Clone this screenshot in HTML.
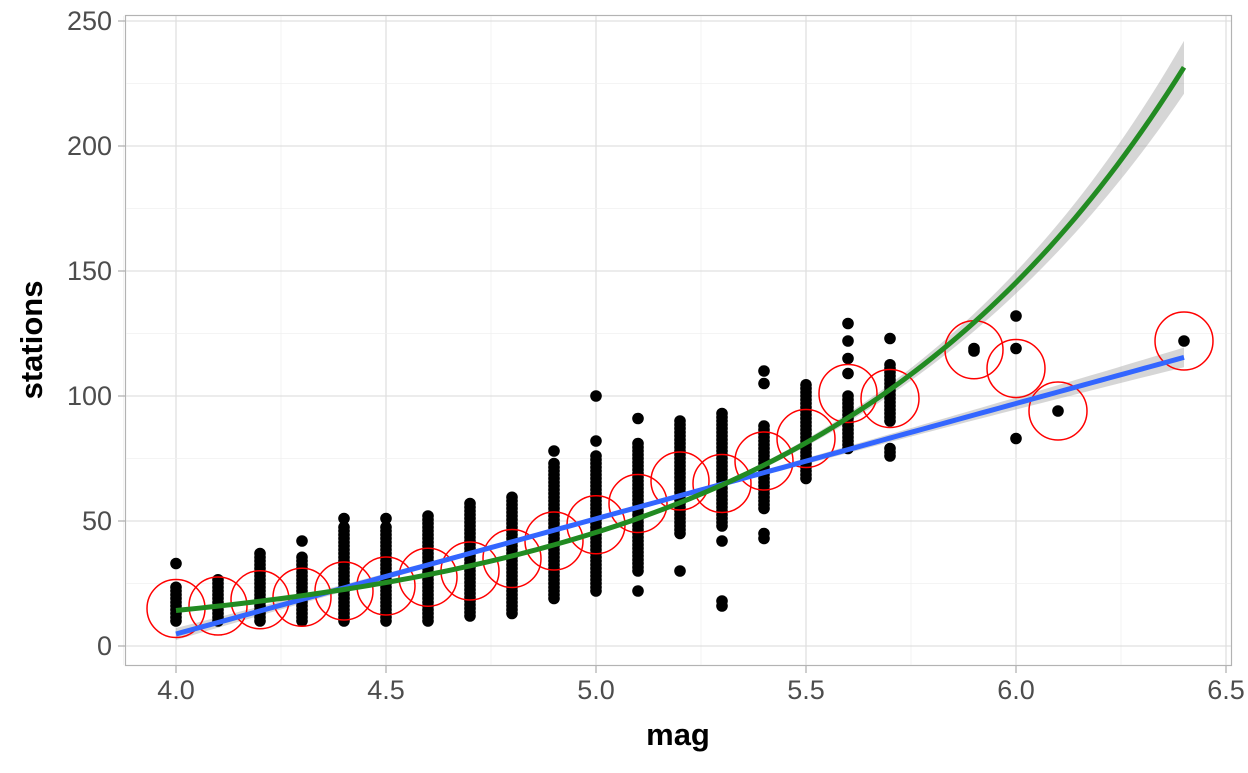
<!DOCTYPE html>
<html><head><meta charset="utf-8"><style>
body{margin:0;background:#fff;}
svg text{font-family:"Liberation Sans",sans-serif;}
</style></head><body>
<svg id="s" width="1248" height="768" xmlns="http://www.w3.org/2000/svg">
<rect x="125.5" y="15.5" width="1106" height="650" fill="#fff" stroke="#b3b3b3" stroke-width="1.2"/>
<g id="grid"></g>
<g id="band"></g>
<g id="pts"></g>
<g id="circ"></g>
<g id="lines"></g>
<g id="axes" font-size="27" fill="#4d4d4d"></g>
<text x="678" y="745" font-size="31" font-weight="bold" text-anchor="middle" fill="#000">mag</text>
<text transform="translate(42,340) rotate(-90)" font-size="31" font-weight="bold" text-anchor="middle" fill="#000">stations</text>
</svg>
<script>
const NS="http://www.w3.org/2000/svg";
const X=m=>176+(m-4)*420, Y=v=>646-v*2.5;
function el(p,t,a){const e=document.createElementNS(NS,t);for(const k in a)e.setAttribute(k,a[k]);document.getElementById(p).appendChild(e);return e;}
for(let m=4.0;m<=6.51;m+=0.25){const major=Math.abs(m*2-Math.round(m*2))<1e-6;
 el("grid","line",{x1:X(m),x2:X(m),y1:16,y2:665,stroke:major?"#e0e0e0":"#f0f0f0","stroke-width":major?1.3:0.8});}
el("grid","line",{x1:X(3.875),x2:X(3.875),y1:16,y2:665,stroke:"#f0f0f0","stroke-width":0.8});
for(let v=0;v<=250;v+=25){const major=v%50==0;
 el("grid","line",{x1:126,x2:1231,y1:Y(v),y2:Y(v),stroke:major?"#e0e0e0":"#f0f0f0","stroke-width":major?1.3:0.8});}
for(let v=0;v<=250;v+=50){el("axes","line",{x1:118,x2:125,y1:Y(v),y2:Y(v),stroke:"#b3b3b3","stroke-width":1.3});
 const t=el("axes","text",{x:112,y:Y(v)+9,"text-anchor":"end"});t.textContent=v;}
for(let m=4.0;m<=6.51;m+=0.5){el("axes","line",{x1:X(m),x2:X(m),y1:666,y2:673,stroke:"#b3b3b3","stroke-width":1.3});
 const t=el("axes","text",{x:X(m),y:699,"text-anchor":"middle"});t.textContent=m.toFixed(1);}
const D=[[4.0,[[10,24]],[33]],[4.1,[[10,27]],[]],[4.2,[[10,37]],[]],[4.3,[[10,36]],[42]],[4.4,[[10,48]],[51]],
[4.5,[[10,48]],[51]],[4.6,[[10,52]],[]],[4.7,[[12,57]],[]],[4.8,[[13,60]],[]],[4.9,[[19,74]],[78]],
[5.0,[[22,76]],[82,100]],[5.1,[[30,81]],[22,91]],[5.2,[[45,91]],[30]],[5.3,[[48,93]],[16,18,42]],
[5.4,[[55,88]],[43,45,105,110]],[5.5,[[67,105]],[]],[5.6,[[79,100]],[109,115,122,129]],[5.7,[[76,80],[90,113]],[123]],
[5.9,[],[118,119]],[6.0,[],[83,119,132]],[6.1,[],[94]],[6.4,[],[122]]];
for(const [m,rs,ss] of D){for(const [a,b] of rs)for(let v=a;v<=b;v+=1.5)el("pts","circle",{cx:X(m),cy:Y(v),r:5.8,fill:"#000"});
 for(const v of ss)el("pts","circle",{cx:X(m),cy:Y(v),r:5.8,fill:"#000"});}
const M=[[4.0,15],[4.1,16],[4.2,18.5],[4.3,19.5],[4.4,22],[4.5,24],[4.6,27.5],[4.7,30],[4.8,35],[4.9,42],[5.0,48.5],[5.1,57],[5.2,66],[5.3,65],[5.4,74],[5.5,83],[5.6,101],[5.7,99],[5.9,118.5],[6.0,111],[6.1,94],[6.4,122]];
for(const [m,v] of M)el("circ","circle",{cx:X(m),cy:Y(v),r:29,fill:"none",stroke:"#ff0000","stroke-width":1.5});
const lin=m=>4.8+(m-4)*46.1, ex=m=>14.2*Math.exp(1.163*(m-4));
let up="",lo="",p="";
for(let m=4;m<=6.4001;m+=0.02){const w=(m-5)*(m-5)*1.6+0.8;up+=`${X(m)},${Y(lin(m)+w)} `;lo=`${X(m)},${Y(lin(m)-w)} `+lo;p+=`${X(m)},${Y(lin(m))} `;}
el("band","polygon",{points:up+lo,fill:"#999",opacity:0.4});
el("lines","polyline",{points:p,fill:"none",stroke:"#3366ff","stroke-width":5});
up="";lo="";p="";
for(let m=4;m<=6.4001;m+=0.02){const v=ex(m),w=v*0.012*(1+Math.pow((m-4.9)/0.8,2)*0.8);up+=`${X(m)},${Y(v+w)} `;lo=`${X(m)},${Y(v-w)} `+lo;p+=`${X(m)},${Y(v)} `;}
el("band","polygon",{points:up+lo,fill:"#999",opacity:0.4});
el("lines","polyline",{points:p,fill:"none",stroke:"#228b22","stroke-width":5});
</script>
</body></html>
